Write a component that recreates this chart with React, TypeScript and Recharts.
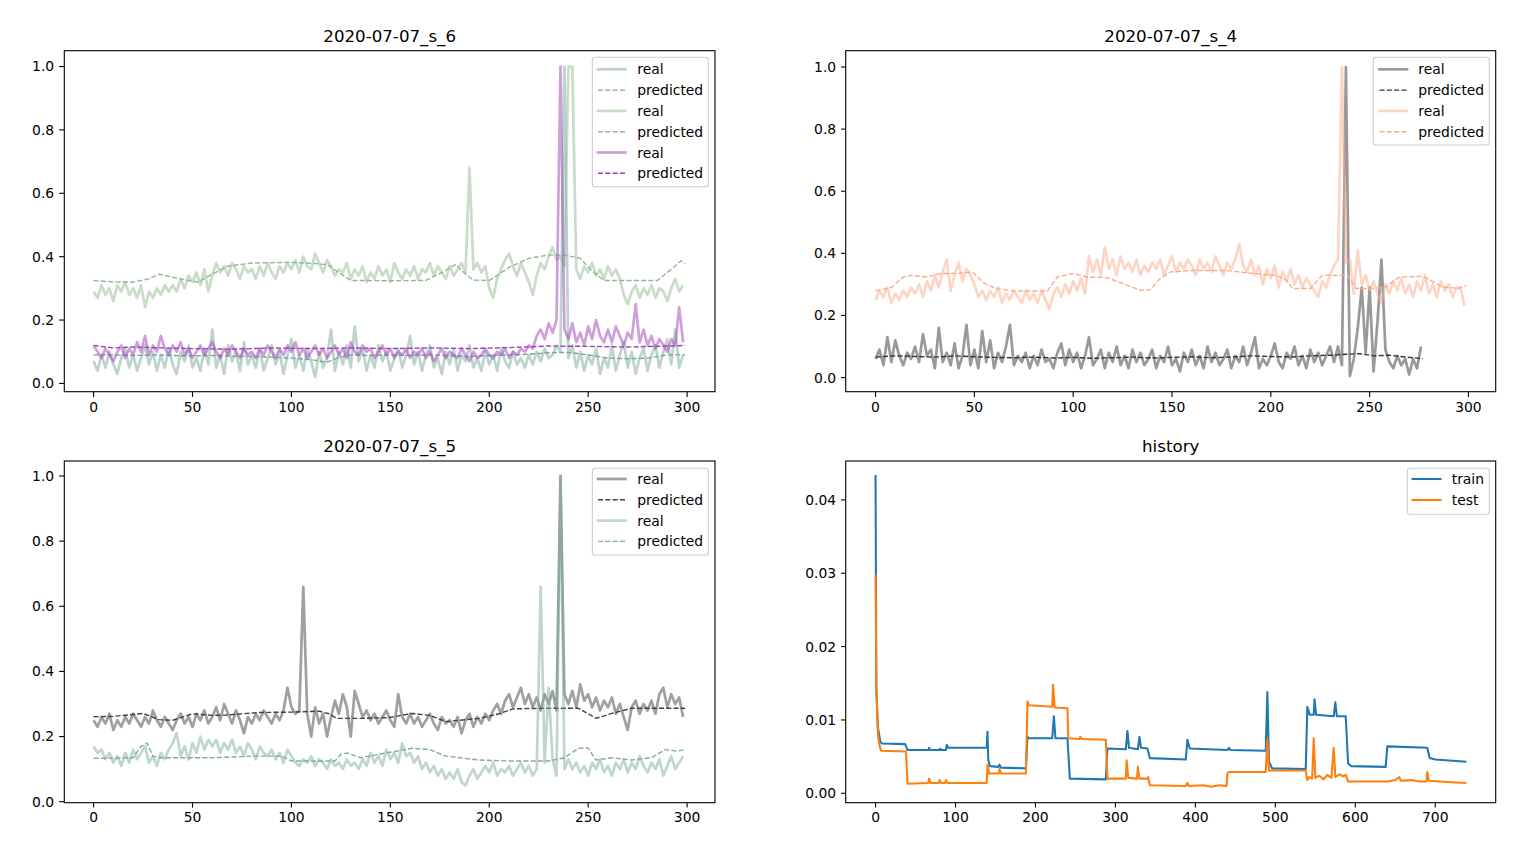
import React from 'react';
import { LineChart, Line, XAxis, YAxis } from 'recharts';

const FONT = "'DejaVu Sans', sans-serif";

// ---------- 2020-07-07_s_6 (real series sampled at x = 0,2,4,...,298) ----------
const S6_REAL_TEAL = [
  0.07,0.04,0.09,0.05,0.10,0.06,0.03,0.08,0.11,0.05,
  0.09,0.04,0.08,0.12,0.06,0.10,0.04,0.09,0.05,0.11,
  0.06,0.03,0.10,0.07,0.12,0.05,0.08,0.04,0.11,0.06,
  0.17,0.05,0.09,0.03,0.12,0.07,0.10,0.04,0.13,0.06,
  0.09,0.05,0.11,0.04,0.08,0.12,0.06,0.10,0.03,0.09,
  0.14,0.05,0.09,0.04,0.11,0.07,0.02,0.10,0.05,0.08,
  0.17,0.04,0.10,0.06,0.12,0.05,0.18,0.07,0.11,0.04,
  0.09,0.05,0.12,0.07,0.10,0.04,0.08,0.11,0.05,0.09,
  0.15,0.06,0.10,0.04,0.09,0.12,0.05,0.08,0.03,0.10,
  0.06,0.11,0.04,0.09,0.07,0.12,0.05,0.08,0.04,0.10,
  0.06,0.09,0.04,0.11,0.07,0.05,0.10,0.06,0.08,0.05,
  0.09,0.06,0.10,0.07,0.11,0.08,0.09,0.12,0.10,1.00,
  0.08,0.12,0.05,0.10,0.04,0.09,0.06,0.11,0.03,0.08,
  0.05,0.12,0.04,0.09,0.13,0.05,0.10,0.03,0.08,0.11,
  0.04,0.09,0.12,0.05,0.10,0.14,0.06,0.17,0.05,0.09,
];
const S6_REAL_GREEN = [
  0.29,0.27,0.31,0.28,0.30,0.26,0.31,0.29,0.32,0.28,
  0.30,0.27,0.31,0.24,0.29,0.27,0.30,0.28,0.31,0.29,
  0.31,0.29,0.33,0.30,0.34,0.32,0.35,0.31,0.36,0.29,
  0.34,0.38,0.35,0.37,0.34,0.38,0.36,0.33,0.37,0.35,
  0.36,0.33,0.37,0.34,0.38,0.35,0.33,0.37,0.35,0.38,
  0.36,0.39,0.35,0.40,0.37,0.36,0.41,0.38,0.35,0.39,
  0.37,0.34,0.36,0.35,0.38,0.33,0.36,0.34,0.37,0.32,
  0.35,0.33,0.37,0.34,0.36,0.32,0.38,0.35,0.33,0.36,
  0.34,0.37,0.33,0.36,0.35,0.38,0.34,0.37,0.35,0.33,
  0.37,0.34,0.36,0.38,0.35,0.68,0.36,0.38,0.35,0.37,
  0.30,0.27,0.33,0.36,0.39,0.41,0.37,0.34,0.38,0.35,
  0.32,0.28,0.34,0.38,0.36,0.40,0.43,0.39,0.40,0.37,
  1.00,1.00,0.36,0.33,0.37,0.35,0.38,0.34,0.36,0.33,
  0.37,0.34,0.36,0.33,0.28,0.25,0.29,0.31,0.27,0.30,
  0.28,0.31,0.27,0.30,0.29,0.26,0.30,0.33,0.29,0.31,
];
const S6_REAL_PURPLE = [
  0.12,0.10,0.08,0.11,0.09,0.07,0.10,0.12,0.08,0.11,
  0.09,0.13,0.10,0.15,0.09,0.12,0.10,0.15,0.11,0.09,
  0.12,0.10,0.13,0.09,0.11,0.08,0.10,0.12,0.09,0.11,
  0.13,0.10,0.08,0.11,0.09,0.12,0.10,0.08,0.11,0.09,
  0.10,0.08,0.11,0.09,0.12,0.10,0.08,0.11,0.09,0.12,
  0.10,0.13,0.09,0.11,0.08,0.10,0.12,0.09,0.11,0.08,
  0.10,0.12,0.09,0.11,0.08,0.13,0.10,0.09,0.12,0.10,
  0.11,0.08,0.10,0.12,0.09,0.11,0.08,0.10,0.09,0.11,
  0.08,0.10,0.09,0.11,0.08,0.10,0.07,0.09,0.11,0.08,
  0.10,0.09,0.08,0.11,0.09,0.07,0.10,0.08,0.09,0.11,
  0.09,0.08,0.10,0.09,0.11,0.08,0.10,0.09,0.11,0.10,
  0.12,0.11,0.15,0.17,0.14,0.19,0.16,0.20,1.00,0.17,
  0.14,0.19,0.13,0.16,0.12,0.18,0.14,0.20,0.15,0.13,
  0.17,0.13,0.18,0.15,0.12,0.16,0.14,0.25,0.13,0.17,
  0.12,0.15,0.11,0.14,0.12,0.10,0.14,0.12,0.24,0.13,
];
const S6_PRED_TEAL_X = [0,10,20,30,40,50,60,70,80,90,100,110,118,124,130,140,150,160,170,180,190,200,210,220,230,240,250,260,270,280,290,299];
const S6_PRED_TEAL_Y = [0.09,0.09,0.088,0.09,0.088,0.087,0.088,0.086,0.085,0.083,0.08,0.075,0.067,0.082,0.09,0.088,0.09,0.088,0.09,0.087,0.085,0.088,0.09,0.092,0.097,0.098,0.09,0.08,0.078,0.08,0.09,0.09];
const S6_PRED_GREEN_X = [0,10,20,28,33,40,48,53,60,68,80,100,112,118,124,130,150,168,176,183,188,192,200,205,210,220,230,238,246,252,258,285,292,297,299];
const S6_PRED_GREEN_Y = [0.325,0.32,0.32,0.33,0.345,0.335,0.325,0.32,0.345,0.37,0.38,0.382,0.378,0.375,0.35,0.325,0.324,0.325,0.35,0.375,0.345,0.326,0.325,0.345,0.366,0.395,0.405,0.405,0.395,0.355,0.325,0.325,0.36,0.387,0.378];
const S6_PRED_PURPLE_X = [0,10,20,30,50,70,90,110,130,150,170,190,210,230,250,270,290,299];
const S6_PRED_PURPLE_Y = [0.12,0.112,0.115,0.113,0.11,0.108,0.112,0.11,0.112,0.11,0.112,0.11,0.113,0.118,0.117,0.115,0.118,0.12];

// ---------- 2020-07-07_s_4 ----------
const S4_REAL_GRAY = [
  0.06,0.09,0.04,0.13,0.05,0.12,0.07,0.04,0.08,0.06,
  0.10,0.05,0.14,0.07,0.09,0.03,0.16,0.05,0.08,0.04,
  0.11,0.03,0.07,0.17,0.04,0.09,0.03,0.15,0.05,0.12,
  0.03,0.08,0.05,0.10,0.17,0.04,0.07,0.05,0.08,0.03,
  0.07,0.04,0.09,0.05,0.06,0.03,0.08,0.11,0.04,0.09,
  0.05,0.08,0.03,0.07,0.13,0.04,0.06,0.09,0.03,0.08,
  0.05,0.10,0.04,0.07,0.03,0.09,0.05,0.08,0.04,0.06,
  0.09,0.03,0.07,0.05,0.10,0.04,0.06,0.02,0.08,0.05,
  0.09,0.04,0.07,0.03,0.10,0.05,0.08,0.04,0.06,0.09,
  0.03,0.07,0.05,0.10,0.04,0.08,0.13,0.03,0.06,0.04,
  0.07,0.11,0.05,0.03,0.08,0.06,0.10,0.04,0.07,0.03,
  0.09,0.05,0.08,0.04,0.07,0.10,0.05,0.10,0.04,1.00,
  0.005,0.06,0.16,0.29,0.08,0.29,0.02,0.18,0.38,0.09,
  0.05,0.03,0.07,0.04,0.06,0.01,0.06,0.03,0.10,
];
const S4_REAL_SALMON = [
  0.25,0.28,0.26,0.29,0.24,0.27,0.25,0.28,0.26,0.29,
  0.27,0.30,0.26,0.31,0.28,0.33,0.29,0.34,0.38,0.28,
  0.33,0.37,0.31,0.35,0.33,0.30,0.26,0.28,0.25,0.28,
  0.26,0.29,0.24,0.27,0.25,0.28,0.26,0.24,0.28,0.25,
  0.27,0.24,0.28,0.25,0.22,0.27,0.29,0.26,0.30,0.27,
  0.31,0.28,0.32,0.27,0.39,0.34,0.38,0.33,0.42,0.35,
  0.38,0.33,0.39,0.35,0.37,0.34,0.38,0.33,0.36,0.34,
  0.37,0.35,0.38,0.33,0.36,0.39,0.34,0.37,0.35,0.38,
  0.36,0.33,0.38,0.35,0.37,0.34,0.39,0.36,0.33,0.37,
  0.35,0.38,0.43,0.36,0.34,0.38,0.33,0.36,0.30,0.35,
  0.32,0.36,0.29,0.34,0.31,0.35,0.30,0.33,0.29,0.32,
  0.30,0.28,0.26,0.31,0.29,0.33,0.36,0.38,1.00,0.37,
  0.38,0.27,0.41,0.30,0.33,0.28,0.31,0.27,0.24,0.30,
  0.27,0.31,0.28,0.32,0.27,0.30,0.26,0.31,0.28,0.33,
  0.27,0.30,0.26,0.31,0.28,0.30,0.26,0.29,0.29,0.23,
];
const S4_PRED_GRAY_X = [0,10,20,30,40,50,60,70,80,90,100,110,120,130,140,150,160,170,180,190,200,210,220,230,238,245,252,260,270,277];
const S4_PRED_GRAY_Y = [0.066,0.07,0.068,0.066,0.07,0.067,0.065,0.064,0.066,0.063,0.065,0.062,0.064,0.066,0.063,0.065,0.067,0.064,0.066,0.07,0.068,0.066,0.07,0.072,0.075,0.077,0.07,0.072,0.065,0.061];
const S4_PRED_SALMON_X = [0,8,14,18,26,33,41,49,55,61,70,87,92,100,107,117,125,134,139,144,149,161,177,191,203,208,211,220,226,239,243,252,258,265,277,287,295,299];
const S4_PRED_SALMON_Y = [0.279,0.29,0.324,0.329,0.324,0.335,0.335,0.34,0.303,0.287,0.279,0.279,0.324,0.335,0.324,0.322,0.303,0.281,0.283,0.319,0.34,0.345,0.345,0.335,0.329,0.313,0.287,0.287,0.329,0.329,0.287,0.287,0.292,0.324,0.326,0.292,0.287,0.297];

// ---------- 2020-07-07_s_5 ----------
const S5_REAL_GRAY = [
  0.25,0.23,0.26,0.24,0.27,0.22,0.25,0.23,0.26,0.24,
  0.27,0.25,0.23,0.26,0.24,0.28,0.25,0.23,0.26,0.24,
  0.22,0.25,0.27,0.24,0.26,0.23,0.27,0.25,0.28,0.24,
  0.26,0.29,0.25,0.30,0.27,0.24,0.28,0.25,0.21,0.26,
  0.24,0.27,0.25,0.28,0.26,0.24,0.27,0.25,0.28,0.35,
  0.29,0.27,0.28,0.66,0.27,0.20,0.29,0.24,0.27,0.20,
  0.26,0.31,0.27,0.33,0.29,0.20,0.34,0.30,0.26,0.28,
  0.25,0.27,0.24,0.26,0.28,0.25,0.23,0.33,0.26,0.24,
  0.27,0.24,0.26,0.23,0.25,0.27,0.24,0.22,0.26,0.24,
  0.25,0.23,0.26,0.21,0.25,0.27,0.23,0.26,0.24,0.27,
  0.25,0.28,0.30,0.27,0.31,0.33,0.29,0.32,0.35,0.30,
  0.33,0.29,0.32,0.28,0.33,0.30,0.34,0.28,1.00,0.33,
  0.30,0.34,0.29,0.36,0.31,0.33,0.29,0.32,0.28,0.31,
  0.29,0.32,0.27,0.30,0.26,0.22,0.29,0.31,0.27,0.30,
  0.28,0.31,0.27,0.33,0.35,0.29,0.33,0.30,0.32,0.26,
];
const S5_REAL_TEAL = [
  0.17,0.15,0.16,0.13,0.15,0.12,0.14,0.11,0.15,0.12,
  0.16,0.13,0.15,0.17,0.12,0.14,0.11,0.15,0.13,0.16,
  0.18,0.21,0.14,0.17,0.13,0.18,0.15,0.20,0.16,0.19,
  0.17,0.19,0.15,0.18,0.16,0.19,0.15,0.17,0.14,0.18,
  0.16,0.13,0.17,0.15,0.14,0.16,0.13,0.15,0.12,0.16,
  0.14,0.12,0.11,0.13,0.12,0.14,0.11,0.13,0.12,0.10,
  0.13,0.11,0.12,0.10,0.13,0.11,0.12,0.10,0.13,0.11,
  0.15,0.12,0.14,0.11,0.16,0.13,0.15,0.12,0.18,0.14,
  0.15,0.12,0.14,0.10,0.12,0.09,0.11,0.08,0.10,0.07,
  0.09,0.07,0.10,0.06,0.05,0.08,0.10,0.07,0.09,0.11,
  0.09,0.12,0.08,0.10,0.09,0.11,0.08,0.10,0.12,0.09,
  0.11,0.08,0.10,0.66,0.12,0.35,0.13,0.08,1.00,0.10,
  0.13,0.10,0.12,0.09,0.11,0.08,0.12,0.10,0.13,0.09,
  0.11,0.08,0.12,0.10,0.13,0.09,0.12,0.10,0.14,0.11,
  0.09,0.12,0.10,0.13,0.08,0.11,0.14,0.10,0.12,0.14,
];
const S5_PRED_GRAY_X = [0,10,25,33,40,50,60,67,84,100,114,119,123,135,149,161,170,178,195,205,212,228,245,250,254,262,272,285,299];
const S5_PRED_GRAY_Y = [0.261,0.262,0.271,0.252,0.25,0.27,0.265,0.266,0.274,0.275,0.278,0.27,0.256,0.256,0.258,0.271,0.265,0.246,0.256,0.27,0.285,0.287,0.287,0.27,0.256,0.271,0.287,0.287,0.287];
const S5_PRED_TEAL_X = [0,20,24,27,30,34,60,80,95,100,122,125,128,135,150,161,170,178,195,210,230,238,245,250,254,262,272,282,289,295,299];
const S5_PRED_TEAL_Y = [0.133,0.135,0.17,0.18,0.14,0.135,0.135,0.14,0.14,0.125,0.125,0.145,0.15,0.135,0.152,0.164,0.16,0.14,0.128,0.125,0.125,0.135,0.164,0.165,0.128,0.135,0.128,0.135,0.16,0.155,0.16];

// ---------- history ----------
const TRAIN_EPOCH = [0,1,3,6,8,37,40,66,67,68,80,81,82,88,89,91,139,140,141,143,154,155,157,188,190,192,221,223,225,240,243,288,290,313,315,317,328,330,332,340,343,388,390,393,440,442,444,488,490,492,496,538,540,543,548,549,551,573,575,577,588,591,595,638,640,690,693,700,739];
const TRAIN_LOSS = [0.0434,0.0143,0.0089,0.0070,0.0068,0.0067,0.0059,0.0059,0.0062,0.0059,0.0059,0.0061,0.0059,0.0059,0.0066,0.0062,0.0062,0.0084,0.0045,0.0037,0.0036,0.0039,0.0035,0.0034,0.0077,0.0075,0.0075,0.0105,0.0075,0.0075,0.0020,0.0019,0.0061,0.0060,0.0085,0.0062,0.0060,0.0077,0.0062,0.0061,0.0048,0.0046,0.0073,0.0061,0.0059,0.0062,0.0059,0.0058,0.0138,0.0043,0.0034,0.0033,0.0118,0.0107,0.0107,0.0128,0.0107,0.0105,0.0124,0.0105,0.0105,0.0041,0.0037,0.0036,0.0064,0.0062,0.0048,0.0046,0.0043];
const TEST_EPOCH = [0,1,3,5,7,38,40,66,67,69,79,80,82,87,88,90,139,140,142,154,155,157,188,190,192,221,222,224,240,241,255,256,258,288,290,313,314,316,327,328,330,340,341,343,388,390,392,410,420,430,439,440,442,488,490,492,538,540,542,546,548,550,555,560,565,570,573,575,580,585,588,591,620,640,650,655,657,670,680,689,690,692,720,739];
const TEST_LOSS = [0.0298,0.0143,0.0080,0.0065,0.0058,0.0057,0.0013,0.0014,0.0020,0.0014,0.0014,0.0018,0.0014,0.0014,0.0018,0.0014,0.0014,0.0039,0.0027,0.0027,0.0033,0.0027,0.0027,0.0125,0.0120,0.0118,0.0148,0.0117,0.0116,0.0075,0.0074,0.0077,0.0074,0.0073,0.0020,0.0020,0.0045,0.0021,0.0020,0.0036,0.0020,0.0020,0.0022,0.0011,0.0010,0.0014,0.0010,0.0011,0.0009,0.0011,0.0010,0.0027,0.0029,0.0029,0.0073,0.0031,0.0031,0.0018,0.0022,0.0020,0.0075,0.0021,0.0024,0.0019,0.0025,0.0021,0.0062,0.0022,0.0026,0.0023,0.0025,0.0016,0.0016,0.0016,0.0018,0.0022,0.0017,0.0018,0.0016,0.0016,0.0029,0.0017,0.0015,0.0014];

const X_TICKS_300 = [0, 50, 100, 150, 200, 250, 300];
const Y_TICKS_1 = [0, 0.2, 0.4, 0.6, 0.8, 1.0];
const X_TICKS_HIST = [0, 100, 200, 300, 400, 500, 600, 700];
const Y_TICKS_HIST = [0, 0.01, 0.02, 0.03, 0.04];

const every2 = (vals: number[]) => vals.map((y, i) => ({ x: i * 2, y }));
const zipXY = (xs: number[], ys: number[]) => xs.map((x, i) => ({ x, y: ys[i] }));

type S = { data: { x: number; y: number }[]; color: string; w: number; op: number; dash?: string; label: string };

const REAL_W = 2.7;
const PRED_W = 1.4;
const DASH = '5.1 2.2';

const realS = (data: any, color: string, label = 'real'): S => ({ data, color, w: REAL_W, op: 0.5, label });
const predS = (data: any, color: string, label = 'predicted'): S => ({ data, color, w: PRED_W, op: 1, dash: DASH, label });

const C_TEAL = '#7ba79b';
const C_GREEN = '#91b991';
const C_PURPLE = '#a040b8';
const C_GRAY4 = '#333333';
const C_SALMON = '#fbab8b';
const C_GRAY5 = '#414141';
const C_TEAL5 = '#80ad9f';

type PanelDef = {
  title: string;
  plot: { x: number; y: number; w: number; h: number };
  xDomain: [number, number];
  xTicks: number[];
  yDomain: [number, number];
  yTicks: number[];
  yDigits: number;
  series: S[];
  legend: { x: number; y: number; w: number; h: number; hx0: number; hx1: number; tx: number; ry0: number; dy: number };
};

const PANELS: PanelDef[] = [
  {
    title: '2020-07-07_s_6',
    plot: { x: 64.3, y: 50.7, w: 650.7, h: 341 },
    xDomain: [-14.95, 313.95], xTicks: X_TICKS_300,
    yDomain: [-0.027, 1.049], yTicks: Y_TICKS_1, yDigits: 1,
    series: [
      realS(every2(S6_REAL_TEAL), C_TEAL),
      predS(zipXY(S6_PRED_TEAL_X, S6_PRED_TEAL_Y), C_TEAL),
      realS(every2(S6_REAL_GREEN), C_GREEN),
      predS(zipXY(S6_PRED_GREEN_X, S6_PRED_GREEN_Y), C_GREEN),
      realS(every2(S6_REAL_PURPLE), C_PURPLE),
      predS(zipXY(S6_PRED_PURPLE_X, S6_PRED_PURPLE_Y), C_PURPLE),
    ],
    legend: { x: 592.3, y: 57.3, w: 116, h: 129.4, hx0: 598, hx1: 625.5, tx: 637.3, ry0: 69.3, dy: 20.8 },
  },
  {
    title: '2020-07-07_s_4',
    plot: { x: 845.7, y: 50.7, w: 650, h: 341 },
    xDomain: [-14.95, 313.95], xTicks: X_TICKS_300,
    yDomain: [-0.0464, 1.0515], yTicks: Y_TICKS_1, yDigits: 1,
    series: [
      realS(every2(S4_REAL_GRAY), C_GRAY4),
      predS(zipXY(S4_PRED_GRAY_X, S4_PRED_GRAY_Y), C_GRAY4),
      realS(every2(S4_REAL_SALMON), C_SALMON),
      predS(zipXY(S4_PRED_SALMON_X, S4_PRED_SALMON_Y), C_SALMON),
    ],
    legend: { x: 1373.3, y: 57.3, w: 116, h: 87.7, hx0: 1379.5, hx1: 1407, tx: 1418.3, ry0: 69.3, dy: 20.8 },
  },
  {
    title: '2020-07-07_s_5',
    plot: { x: 64.3, y: 461, w: 650.7, h: 341.7 },
    xDomain: [-14.95, 313.95], xTicks: X_TICKS_300,
    yDomain: [-0.003, 1.046], yTicks: Y_TICKS_1, yDigits: 1,
    series: [
      realS(every2(S5_REAL_GRAY), C_GRAY5),
      predS(zipXY(S5_PRED_GRAY_X, S5_PRED_GRAY_Y), C_GRAY5),
      realS(every2(S5_REAL_TEAL), C_TEAL5),
      predS(zipXY(S5_PRED_TEAL_X, S5_PRED_TEAL_Y), C_TEAL5),
    ],
    legend: { x: 592.3, y: 468.3, w: 116, h: 86.7, hx0: 598, hx1: 625.5, tx: 637.3, ry0: 479, dy: 20.8 },
  },
  {
    title: 'history',
    plot: { x: 845.7, y: 461, w: 650, h: 341.7 },
    xDomain: [-36.95, 775.95], xTicks: X_TICKS_HIST,
    yDomain: [-0.00128, 0.0453], yTicks: Y_TICKS_HIST, yDigits: 2,
    series: [
      { data: zipXY(TRAIN_EPOCH, TRAIN_LOSS), color: '#1f77b4', w: 2.08, op: 1, label: 'train' },
      { data: zipXY(TEST_EPOCH, TEST_LOSS), color: '#ff7f0e', w: 2.08, op: 1, label: 'test' },
    ],
    legend: { x: 1407.3, y: 468.3, w: 82, h: 46, hx0: 1412.5, hx1: 1440.5, tx: 1451.7, ry0: 479, dy: 21 },
  },
];

const ML = 64, MT = 50, MR = 20, MB = 40, YW = 60, XH = 30;

function Panel({ p }: { p: PanelDef }) {
  const W = ML + p.plot.w + MR;
  const H = MT + p.plot.h + MB;
  const tickStyle = { fill: '#000', fontSize: 13.9, fontFamily: FONT };
  return (
    <div style={{ position: 'absolute', left: p.plot.x - ML, top: p.plot.y - MT }}>
      <LineChart width={W} height={H} margin={{ top: MT, right: MR, bottom: MB - XH, left: ML - YW }}>
        <XAxis
          type="number" dataKey="x" domain={p.xDomain} ticks={p.xTicks} allowDataOverflow interval={0}
          axisLine={false} stroke="#000" tickLine={{ stroke: '#000', strokeWidth: 1.1 }}
          tickSize={4.9} tickMargin={4.9} height={XH} tick={tickStyle}
        />
        <YAxis
          type="number" domain={p.yDomain} ticks={p.yTicks} allowDataOverflow interval={0}
          axisLine={false} stroke="#000" tickLine={{ stroke: '#000', strokeWidth: 1.1 }}
          tickSize={4.9} tickMargin={4.9} width={YW} tick={tickStyle}
          tickFormatter={(v: number) => v.toFixed(p.yDigits)}
        />
        {p.series.map((s, i) => (
          <Line
            key={i} data={s.data} dataKey="y" type="linear" stroke={s.color} strokeWidth={s.w}
            strokeOpacity={s.op} strokeDasharray={s.dash} strokeLinejoin="round"
            dot={false} activeDot={false} isAnimationActive={false} legendType="none"
          />
        ))}
      </LineChart>
    </div>
  );
}

function Overlay() {
  return (
    <svg width={1526} height={848} style={{ position: 'absolute', left: 0, top: 0, pointerEvents: 'none' }}>
      {PANELS.map((p, i) => (
        <g key={i}>
          <rect x={p.plot.x} y={p.plot.y} width={p.plot.w} height={p.plot.h} fill="none" stroke="#000" strokeWidth={1.1} />
          <text x={p.plot.x + p.plot.w / 2} y={p.plot.y - 8.6} textAnchor="middle" fontSize={16.67} fontFamily={FONT} fill="#000">
            {p.title}
          </text>
          <rect x={p.legend.x} y={p.legend.y} width={p.legend.w} height={p.legend.h} rx={2.8} fill="#fff" fillOpacity={0.8} stroke="#cccccc" strokeWidth={1.1} />
          {p.series.map((s, j) => {
            const y = p.legend.ry0 + j * p.legend.dy;
            return (
              <g key={j}>
                <line x1={p.legend.hx0} x2={p.legend.hx1} y1={y} y2={y} stroke={s.color} strokeWidth={s.w} strokeOpacity={s.op} strokeDasharray={s.dash} strokeLinecap={s.dash ? 'butt' : 'square'} />
                <text x={p.legend.tx} y={y} dominantBaseline="central" fontSize={13.9} fontFamily={FONT} fill="#000">{s.label}</text>
              </g>
            );
          })}
        </g>
      ))}
    </svg>
  );
}

export default function App() {
  return (
    <div style={{ position: 'absolute', left: 0, top: 0, width: 1526, height: 848, background: '#fff', fontFamily: FONT }}>
      {PANELS.map((p, i) => <Panel key={i} p={p} />)}
      <Overlay />
    </div>
  );
}
